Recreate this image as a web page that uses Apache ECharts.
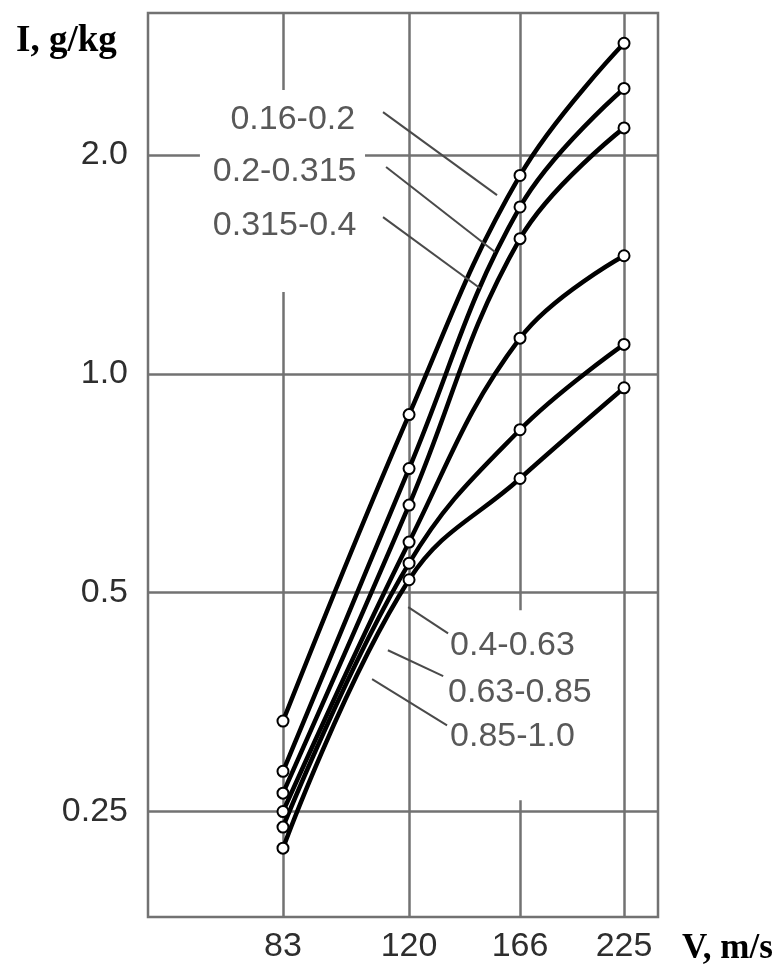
<!DOCTYPE html>
<html><head><meta charset="utf-8">
<script src="https://cdn.jsdelivr.net/npm/echarts@6/dist/echarts.min.js"></script>
<style>html,body{margin:0;padding:0;background:#fff}#c{width:784px;height:965px}</style>
</head><body><div id="c"></div>
<script>
// ---- data ----
const speeds = [83, 120, 166, 225];              // V, m/s (x tick labels)
const yTicks = [0.25, 0.5, 1.0, 2.0];            // I, g/kg (y tick labels)
const fractionNames = ['0.16-0.2', '0.2-0.315', '0.315-0.4', '0.4-0.63', '0.63-0.85', '0.85-1.0'];
const f016_02   = [0.333, 0.879, 1.875, 2.85];
const f02_0315  = [0.284, 0.741, 1.697, 2.47];
const f0315_04  = [0.265, 0.660, 1.535, 2.18];
const f04_063   = [0.250, 0.587, 1.120, 1.454];
const f063_085  = [0.238, 0.549, 0.838, 1.098];
const f085_10   = [0.2226, 0.521, 0.718, 0.957];
const allSeries = [f016_02, f02_0315, f0315_04, f04_063, f063_085, f085_10];

// ---- annotation placement (data space) ----
const labelAnchors = [[102.5, 2.235], [102.9, 1.895], [102.9, 1.602], [135.3, 0.4232], [134.5, 0.3648], [135.3, 0.3171]];
const labelSides   = ['left', 'left', 'left', 'right', 'right', 'right'];
const leaderLines  = [
  [[111.2, 2.292], [155.2, 1.762]],
  [[112.2, 1.926], [154.3, 1.471]],
  [[111.2, 1.643], [147.7, 1.312]],
  [[134.5, 0.4395], [119.7, 0.4776]],
  [[132.6, 0.3838], [112.8, 0.4167]],
  [[134.1, 0.3284], [107.7, 0.3803]]
];
const whiteAreas = [
  [[65.1, 2.458], [105.5, 1.296]],
  [[133.3, 0.473], [212.8, 0.259]]
];

const tickFont = {fontFamily: 'Liberation Sans, Arial, sans-serif', fontSize: 34, color: '#2e2e2e'};
const gridColor = '#727272';

const chart = echarts.init(document.getElementById('c'), null, {renderer: 'canvas'});

const series = allSeries.map((vals, i) => ({
  name: fractionNames[i],
  type: 'line',
  z: 3,
  smooth: 0.4,
  data: speeds.map((v, k) => [v, vals[k]]),
  symbol: 'circle',
  symbolSize: 11,
  showAllSymbol: true,
  lineStyle: {color: '#000', width: 4.5},
  itemStyle: {color: '#fff', borderColor: '#000', borderWidth: 2},
  emphasis: {disabled: true},
  silent: true,
  animation: false
}));

series.push({
  type: 'line', z: 1, data: [], silent: true, animation: false,
  markArea: {
    silent: true,
    itemStyle: {color: '#fff', borderWidth: 0},
    data: whiteAreas.map(a => [{coord: a[0]}, {coord: a[1]}])
  }
});
series.push({
  type: 'line', z: 2, data: [], silent: true, animation: false,
  markLine: {
    silent: true, symbol: ['none', 'none'], animation: false,
    lineStyle: {color: '#4a4a4a', width: 2, type: 'solid'},
    label: {show: false},
    data: leaderLines.map(l => [{coord: l[0]}, {coord: l[1]}])
  }
});
series.push({
  type: 'scatter', z: 4, symbolSize: 0, silent: true, animation: false,
  data: labelAnchors.map((p, i) => ({
    value: p,
    label: {
      show: true, position: labelSides[i], distance: 0,
      formatter: fractionNames[i],
      fontFamily: 'Liberation Sans, Arial, sans-serif', fontSize: 34, color: '#2e2e2e'
    }
  }))
});

chart.setOption({
  backgroundColor: '#fff',
  animation: false,
  title: [
    {text: 'I, g/kg', left: 11, top: 18, textStyle: {fontFamily: 'Liberation Serif, Times New Roman, serif', fontWeight: 'bold', fontSize: 37, color: '#000'}},
    {text: 'V, m/s', left: 677, top: 926, textStyle: {fontFamily: 'Liberation Serif, Times New Roman, serif', fontWeight: 'bold', fontSize: 35, color: '#000'}}
  ],
  grid: {left: 148, right: 126, top: 13, bottom: 48, show: true, borderColor: gridColor, borderWidth: 2.5, backgroundColor: 'transparent'},
  xAxis: {
    type: 'log', logBase: 10, min: 55.93, max: 248.5,
    axisLine: {show: false},
    axisTick: {show: false, customValues: speeds},
    axisLabel: {customValues: speeds, margin: 13, formatter: v => String(Math.round(v)), ...tickFont},
    splitLine: {show: true, lineStyle: {color: gridColor, width: 2.5}}
  },
  yAxis: {
    type: 'log', logBase: 2, min: 0.179, max: 3.137,
    axisLine: {show: false},
    axisTick: {show: false, customValues: yTicks},
    axisLabel: {customValues: yTicks, margin: 20, formatter: v => (Math.abs(v - 0.25) < 1e-6 ? '0.25' : v.toFixed(1)), ...tickFont},
    splitLine: {show: true, lineStyle: {color: gridColor, width: 2.5}}
  },
  series: series
});
</script></body></html>
